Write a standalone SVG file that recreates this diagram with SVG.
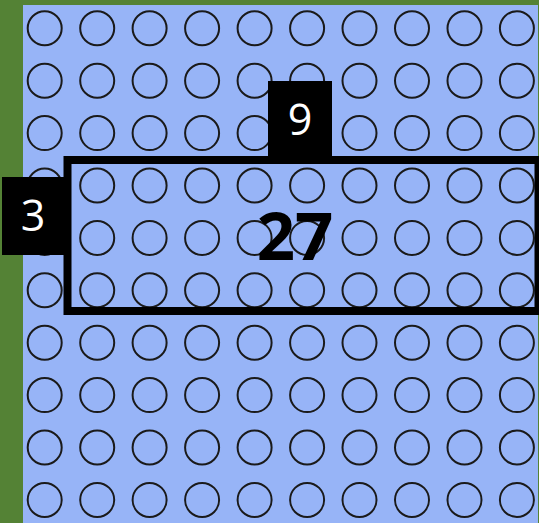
<svg xmlns="http://www.w3.org/2000/svg" xmlns:xlink="http://www.w3.org/1999/xlink" width="539" height="523" viewBox="0 0 539 523">
<style>
.c{fill:none;stroke:#1a1a1a;stroke-width:2}
.lbl{fill:#fff;font-family:"Open Sans","Noto Sans",sans-serif;font-size:43px;text-anchor:middle}
.big{fill:#000;font-family:"Open Sans","Noto Sans",sans-serif;font-weight:bold;font-size:67px;text-anchor:middle}
</style>
<defs>
<g id="row">
<circle class="c" cx="44.7" cy="0" r="17"/>
<circle class="c" cx="97.2" cy="0" r="17"/>
<circle class="c" cx="149.6" cy="0" r="17"/>
<circle class="c" cx="202.1" cy="0" r="17"/>
<circle class="c" cx="254.6" cy="0" r="17"/>
<circle class="c" cx="307.1" cy="0" r="17"/>
<circle class="c" cx="359.5" cy="0" r="17"/>
<circle class="c" cx="412.0" cy="0" r="17"/>
<circle class="c" cx="464.5" cy="0" r="17"/>
<circle class="c" cx="516.9" cy="0" r="17"/>
</g>
</defs>
<rect x="0" y="0" width="539" height="523" fill="#548235"/>
<rect x="23" y="5" width="515" height="518" fill="#97b4f7"/>
<g id="grid">
<use xlink:href="#row" y="28.3"/>
<use xlink:href="#row" y="80.7"/>
<use xlink:href="#row" y="133.1"/>
<use xlink:href="#row" y="185.5"/>
<use xlink:href="#row" y="237.9"/>
<use xlink:href="#row" y="290.3"/>
<use xlink:href="#row" y="342.7"/>
<use xlink:href="#row" y="395.1"/>
<use xlink:href="#row" y="447.5"/>
<use xlink:href="#row" y="499.9"/>
</g>
<g id="area">
<rect x="67.5" y="160" width="471" height="151" fill="none" stroke="#000" stroke-width="8"/>
<text class="big" x="295" y="260">27</text>
</g>
<g id="label-3">
<rect x="2" y="177" width="66" height="78" fill="#000"/>
<text class="lbl" x="33" y="231">3</text>
</g>
<g id="label-9">
<rect x="268" y="81" width="64" height="77" fill="#000"/>
<text class="lbl" x="300" y="135">9</text>
</g>
</svg>
